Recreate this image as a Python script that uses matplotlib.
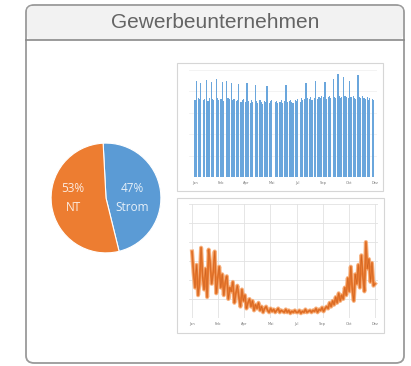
import matplotlib.pyplot as plt
from matplotlib.patches import FancyBboxPatch, Rectangle
import numpy as np

# Anteile Strom / NT
pie_labels = ["Strom", "NT"]
pie_values = [47, 53]

# Lastgang Strom (Balken, ~2,3 Tage je Balken)
strom = [72, 90, 0, 74, 73, 88, 0, 72, 73, 0, 91, 71, 74, 0, 89, 73, 72, 0, 92,
         74, 72, 0, 73, 89, 71, 0, 0, 90, 74, 73, 0, 88, 72, 73, 0, 71, 72, 87,
         0, 70, 72, 73, 0, 70, 88, 71, 0, 69, 72, 70, 0, 86, 71, 69, 0, 72, 70,
         68, 0, 71, 70, 85, 0, 69, 71, 72, 0, 0, 70, 71, 69, 0, 70, 72, 69, 0,
         71, 86, 70, 0, 71, 72, 70, 69, 0, 72, 71, 73, 0, 70, 74, 72, 0, 73, 88,
         74, 0, 73, 75, 72, 0, 74, 90, 0, 73, 75, 74, 76, 0, 75, 89, 73, 0, 75,
         76, 74, 0, 92, 75, 74, 0, 96, 76, 74, 75, 0, 93, 76, 75, 0, 74, 90, 75,
         0, 76, 74, 73, 0, 95, 75, 74, 0, 76, 74, 73, 0, 75, 72, 74, 0, 73, 72, 0]

# Lastgang NT (Linie, 3-Tages-Werte)
nt = [3.5, 2.4, 1.6, 2.8, 1.2, 1.9, 3.7, 2.2, 1.5, 2.6,
      1.1, 3.6, 2.9, 1.8, 2.4, 3.5, 1.3, 2.1, 2.7, 1.6,
      2.3, 1.2, 1.9, 2.2, 1.0, 1.6, 1.4, 1.9, 0.8, 1.3,
      1.7, 1.1, 0.6, 1.5, 0.9, 1.2, 0.5, 0.8, 1.0, 0.6,
      0.9, 0.4, 0.7, 0.5, 0.8, 0.4, 0.6, 0.3, 0.5, 0.6,
      0.4, 0.3, 0.5, 0.35, 0.45, 0.3, 0.4, 0.5, 0.3, 0.4,
      0.35, 0.3, 0.45, 0.3, 0.4, 0.25, 0.35, 0.3, 0.4, 0.3,
      0.3, 0.4, 0.25, 0.35, 0.3, 0.45, 0.3, 0.35, 0.4, 0.3,
      0.4, 0.35, 0.5, 0.3, 0.45, 0.4, 0.55, 0.35, 0.5, 0.6,
      0.5, 0.8, 0.6, 0.9, 0.7, 1.1, 0.8, 1.3, 0.9, 1.2,
      1.0, 1.6, 1.2, 2.1, 1.4, 2.7, 1.5, 0.9, 2.3, 1.8,
      2.8, 1.6, 3.3, 2.2, 1.4, 4.0, 2.6, 3.1, 1.9, 2.9, 1.7, 1.8]

month_ticks = ["Jan", "Feb", "Apr", "Mai", "Jul", "Sep", "Okt", "Dez"]

BLUE = "#5b9bd5"
ORANGE = "#ed7d31"

W, H = 411, 366
fig = plt.figure(figsize=(W / 100, H / 100), dpi=100)


def fx(x):
    return x / W


def fy(y):
    return 1 - y / H


def box(x0, y0, x1, y1):
    # Pixelbox (Ursprung oben links) -> Figure-Rechteck
    return [fx(x0), fy(y1), fx(x1 - x0), (y1 - y0) / H]


# Karte mit Kopfzeile (hinter den Achsen)
card = FancyBboxPatch((fx(26), fy(363)), fx(404 - 26), (363 - 5) / H,
                      boxstyle="round,pad=0,rounding_size=0.02",
                      transform=fig.transFigure, facecolor="white",
                      edgecolor="#9a9a9a", linewidth=1.3, zorder=-10)
fig.patches.append(card)
header = FancyBboxPatch((fx(27), fy(40)), fx(403 - 27), (40 - 6) / H,
                        boxstyle="round,pad=0,rounding_size=0.015",
                        transform=fig.transFigure, facecolor="#f2f2f2",
                        edgecolor="none", zorder=-9)
fig.patches.append(header)
fig.add_artist(plt.Line2D([fx(26), fx(404)], [fy(40), fy(40)],
                          transform=fig.transFigure, color="#8a8a8a", lw=1.2))
fig.text(fx(215), fy(22.5), "Gewerbeunternehmen", ha="center", va="center",
         fontsize=15, color="#646464", family="Liberation Sans")

# Kreisdiagramm
ax_pie = fig.add_axes(box(50, 142, 162, 254))
ax_pie.pie(pie_values, colors=[BLUE, ORANGE], startangle=93, counterclock=False,
           radius=1, wedgeprops=dict(edgecolor="white", linewidth=0.8))
for lbl, val, xpos in zip(pie_labels, pie_values, [0.48, -0.6]):
    ax_pie.text(xpos, 0.0, f"{val}%\n{lbl}", ha="center", va="center",
                color="white", fontsize=8.5, family="Open Sans", linespacing=1.6,
                alpha=0.85)
ax_pie.set_xlim(-1.02, 1.02)
ax_pie.set_ylim(-1.02, 1.02)
ax_pie.set_aspect("equal")
ax_pie.axis("off")


def small_frame(x0, y0, x1, y1):
    fig.patches.append(Rectangle((fx(x0), fy(y1)), fx(x1 - x0), (y1 - y0) / H,
                                 transform=fig.transFigure, facecolor="white",
                                 edgecolor="#d6d6d6", linewidth=0.8, zorder=-5))


def style_small(ax, n):
    ax.patch.set_alpha(0)
    for s in ax.spines.values():
        s.set_visible(False)
    ax.tick_params(length=0, pad=3)
    ax.set_xticks(np.linspace(0, n - 1, len(month_ticks)))
    ax.set_xticklabels(month_ticks, fontsize=2.6, color="#777777")
    ax.set_yticks([])


# Strom-Lastgang
small_frame(177, 63, 383, 191)
ax1 = fig.add_axes(box(189, 70, 377, 177))
x1 = np.arange(len(strom))
ax1.bar(x1, strom, width=1.0, color="#6aa6dc", edgecolor="none")
ax1.set_xlim(-5, len(strom) + 1)
ax1.set_ylim(0, 100)
for g in [20, 40, 60, 80, 100]:
    ax1.axhline(g, color="#eeeeee", lw=0.5, zorder=0)
ax1.axhline(0, color="#cccccc", lw=0.6)
style_small(ax1, len(strom))

# NT-Lastgang
small_frame(177, 198, 384, 333)
ax2 = fig.add_axes(box(189, 204, 378, 318))
x2 = np.arange(len(nt))
ax2.plot(x2, nt, color="#f4a46a", lw=3.0, solid_joinstyle="round", alpha=0.8)
ax2.plot(x2, nt, color=ORANGE, lw=1.6, solid_joinstyle="round")
ax2.plot(x2, nt, color="#b5501a", lw=0.4, alpha=0.6)
ax2.set_xlim(-2, len(nt) + 1)
ax2.set_ylim(0, 6)
for g in range(1, 7):
    ax2.axhline(g, color="#e2e2e2", lw=0.6, zorder=0)
for t in np.linspace(0, len(nt) - 1, len(month_ticks)):
    ax2.axvline(t, color="#e2e2e2", lw=0.6, zorder=0)
ax2.axhline(0, color="#cccccc", lw=0.6)
style_small(ax2, len(nt))

fig.savefig("out.png", dpi=100)
